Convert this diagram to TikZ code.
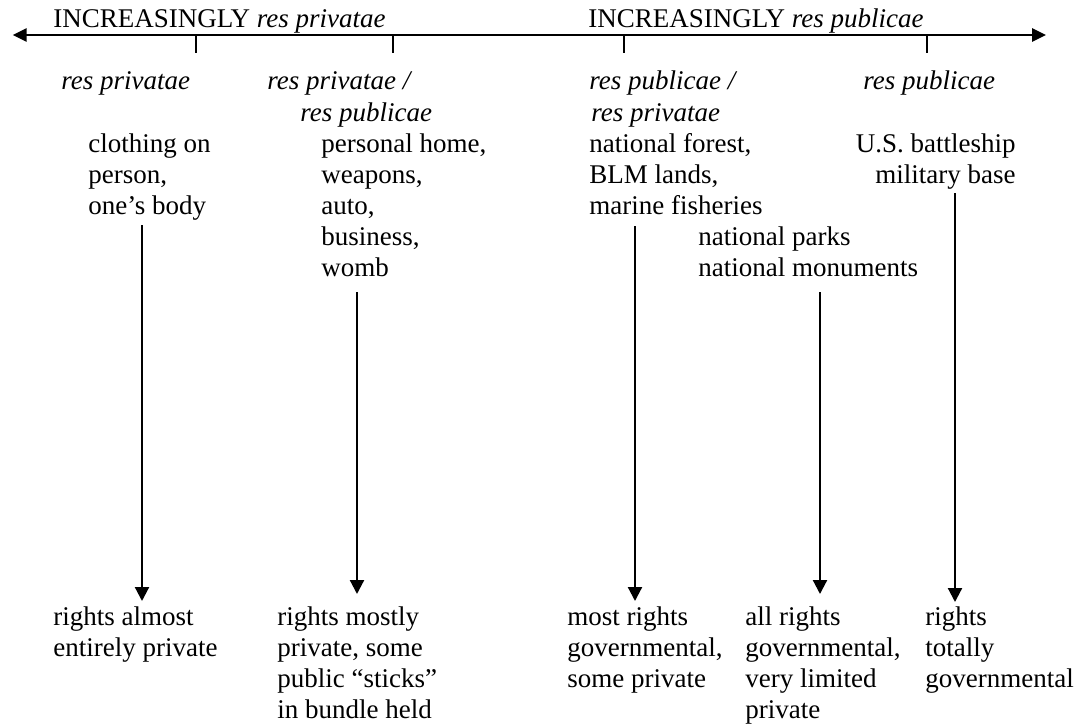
\documentclass[tikz,border=0pt]{standalone}
\usepackage{fontspec}
\setmainfont{Liberation Serif}
\usetikzlibrary{arrows.meta}
\tikzset{
  txt/.style={font=\fontsize{13.5}{15.5}\selectfont, inner sep=0pt, anchor=base west},
  blk/.style={font=\fontsize{13.5}{15.5}\selectfont, inner sep=0pt, anchor=north west, align=left},
  blkr/.style={font=\fontsize{13.5}{15.5}\selectfont, inner sep=0pt, anchor=north east, align=right},
  axisline/.style={line width=1.3pt, {Triangle[length=7pt,width=6.5pt]}-{Triangle[length=7pt,width=6.5pt]}},
  tickline/.style={line width=0.7pt},
  downarrow/.style={line width=1.1pt, -{Triangle[length=7pt,width=7pt]}}
}
\begin{document}
\begin{tikzpicture}[x=0.5pt, y=-0.5pt]
\useasboundingbox (0,0) rectangle (1076,723);
% axis
\coordinate (axL) at (12.7,35);
\coordinate (axR) at (1046,35);
\draw[axisline] (axL) -- (axR);
\foreach \n/\x in {k1/196, k2/393, k3/624, k4/927}{
  \coordinate (\n t) at (\x,35);
  \coordinate (\n b) at (\x,53);
  \draw[tickline] (\n t) -- (\n b);
}
% titles
\node[txt] (t1) at (53,27) {INCREASINGLY \textit{res privatae}};
\node[txt] (t2) at (588,27) {INCREASINGLY \textit{res publicae}};
% headings
\node[txt] (h1) at (61,89) {\textit{res privatae}};
\node[txt] (h2a) at (267,89) {\textit{res privatae /}};
\node[txt] (h2b) at (300,121) {\textit{res publicae}};
\node[txt] (h3a) at (589,89) {\textit{res publicae /}};
\node[txt] (h3b) at (591,121) {\textit{res privatae}};
\node[txt] (h4) at (863,89) {\textit{res publicae}};
% examples (north = baseline - 21.7)
\node[blk] (b1) at (88,130.3) {\strut clothing on\\person,\\one’s body};
\node[blk] (b2) at (321,130.3) {\strut personal home,\\weapons,\\auto,\\business,\\womb};
\node[blk] (b3) at (589,130.3) {\strut national forest,\\BLM lands,\\marine fisheries};
\node[blk] (b4) at (698,223.3) {\strut national parks\\national monuments};
\node[blkr] (b5) at (1016,130.3) {\strut U.S. battleship\\military base};
% results
\node[blk] (r1) at (53,603.3) {\strut rights almost\\entirely private};
\node[blk] (r2) at (277,603.3) {\strut rights mostly\\private, some\\public “sticks”\\in bundle held};
\node[blk] (r3) at (567,603.3) {\strut most rights\\governmental,\\some private};
\node[blk] (r4) at (745,603.3) {\strut all rights\\governmental,\\very limited\\private};
\node[blk] (r5) at (925,603.3) {\strut rights\\totally\\governmental};
% arrows
\coordinate (a1s) at (142,225); \coordinate (a1e) at (142,601);
\coordinate (a2s) at (357,292); \coordinate (a2e) at (357,594);
\coordinate (a3s) at (635,226); \coordinate (a3e) at (635,601);
\coordinate (a4s) at (820,292); \coordinate (a4e) at (820,594);
\coordinate (a5s) at (955,193); \coordinate (a5e) at (955,602);
\draw[downarrow] (a1s) -- (a1e);
\draw[downarrow] (a2s) -- (a2e);
\draw[downarrow] (a3s) -- (a3e);
\draw[downarrow] (a4s) -- (a4e);
\draw[downarrow] (a5s) -- (a5e);
\end{tikzpicture}
\end{document}
